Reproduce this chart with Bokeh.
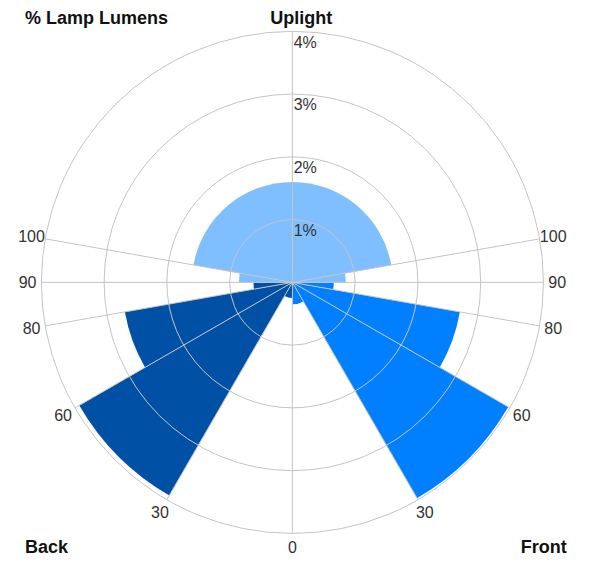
import math
from bokeh.plotting import figure
from bokeh.models import Range1d, ColumnDataSource
from bokeh.core.properties import value
from bokeh.embed import file_html
from bokeh.resources import INLINE

# ---- data ----
zone_start = [0, 30, 60, 80]          # degrees from nadir
zone_end = [30, 60, 80, 90]
front_pct = [0.35, 3.97, 2.71, 0.66]
back_pct = [0.25, 3.92, 2.71, 0.62]
uplight_start = [90, 100]
uplight_end = [100, 180]
uplight_front_pct = [0.85, 1.6]
uplight_back_pct = [0.85, 1.6]
ring_values = [1, 2, 3, 4]
ring_labels = ["1%", "2%", "3%", "4%"]
angle_ticks = [0, 30, 60, 80, 90, 100]
angle_tick_labels = ["0", "30", "60", "80", "90", "100"]

FRONT_C = "#0080FF"
BACK_C = "#0050A6"
UP_C = "#80BFFF"
GRID_C = "#C4C4C4"
FONT = "Liberation Sans"

def front_ang(t):
    return math.radians(-90 + t)

def back_ang(t):
    return math.radians(-90 - t)

p = figure(width=576, height=556, output_backend="svg", toolbar_location=None,
           x_range=Range1d(-4.651, 4.527), y_range=Range1d(-4.372, 4.496),
           min_border=0)
p.axis.visible = False
p.grid.visible = False
p.outline_line_color = None
p.background_fill_color = "white"

# wedges
def add_wedges(starts, ends, vals, side, color):
    if side == "front":
        sa = [front_ang(a) for a in starts]
        ea = [front_ang(b) for b in ends]
    else:
        sa = [back_ang(b) for b in ends]
        ea = [back_ang(a) for a in starts]
    src = ColumnDataSource(dict(x=[0] * len(vals), y=[0] * len(vals), r=vals, sa=sa, ea=ea))
    p.wedge(x="x", y="y", radius="r", start_angle="sa", end_angle="ea", source=src,
            fill_color=color, line_color=None)

add_wedges(zone_start, zone_end, front_pct, "front", FRONT_C)
add_wedges(zone_start, zone_end, back_pct, "back", BACK_C)
add_wedges(uplight_start, uplight_end, uplight_front_pct, "front", UP_C)
add_wedges(uplight_start, uplight_end, uplight_back_pct, "back", UP_C)

# rings
R = max(ring_values)
p.circle(x=[0] * len(ring_values), y=[0] * len(ring_values), radius=ring_values,
         fill_color=None, line_color=GRID_C, line_width=1)

# radial lines
ang_all = [front_ang(t) for t in angle_ticks] + [back_ang(t) for t in angle_ticks[1:]] + [math.radians(90)]
p.segment(x0=[0] * len(ang_all), y0=[0] * len(ang_all),
          x1=[R * math.cos(a) for a in ang_all], y1=[R * math.sin(a) for a in ang_all],
          line_color=GRID_C, line_width=1)

# ring labels
p.text(x=[0.02] * len(ring_values), y=[v - 0.17 for v in ring_values], text=ring_labels,
       text_font=value(FONT), text_font_size="16px", text_color="#333333",
       text_align="left", text_baseline="middle")

# angle labels
LR = 4.22
lx, ly, lt = [], [], []
for t, lab in zip(angle_ticks, angle_tick_labels):
    sides = [front_ang(t)] if t == 0 else [front_ang(t), back_ang(t)]
    for a in sides:
        lx.append(LR * math.cos(a))
        ly.append(LR * math.sin(a))
        lt.append(lab)
p.text(x=lx, y=ly, text=lt, text_font=value(FONT), text_font_size="16px",
       text_color="#333333", text_align="center", text_baseline="middle")

# titles
bold = dict(text_font=value(FONT), text_font_size="18px", text_font_style="bold",
            text_color="#111111", text_baseline="middle")
p.text(x=[0.14], y=[4.22], text=["Uplight"], text_align="center", **bold)
p.text(x=[-4.26], y=[4.22], text=["% Lamp Lumens"], text_align="left", **bold)
p.text(x=[-4.26], y=[-4.22], text=["Back"], text_align="left", **bold)
p.text(x=[4.37], y=[-4.22], text=["Front"], text_align="right", **bold)

open("out.html", "w").write(file_html(p, INLINE))
